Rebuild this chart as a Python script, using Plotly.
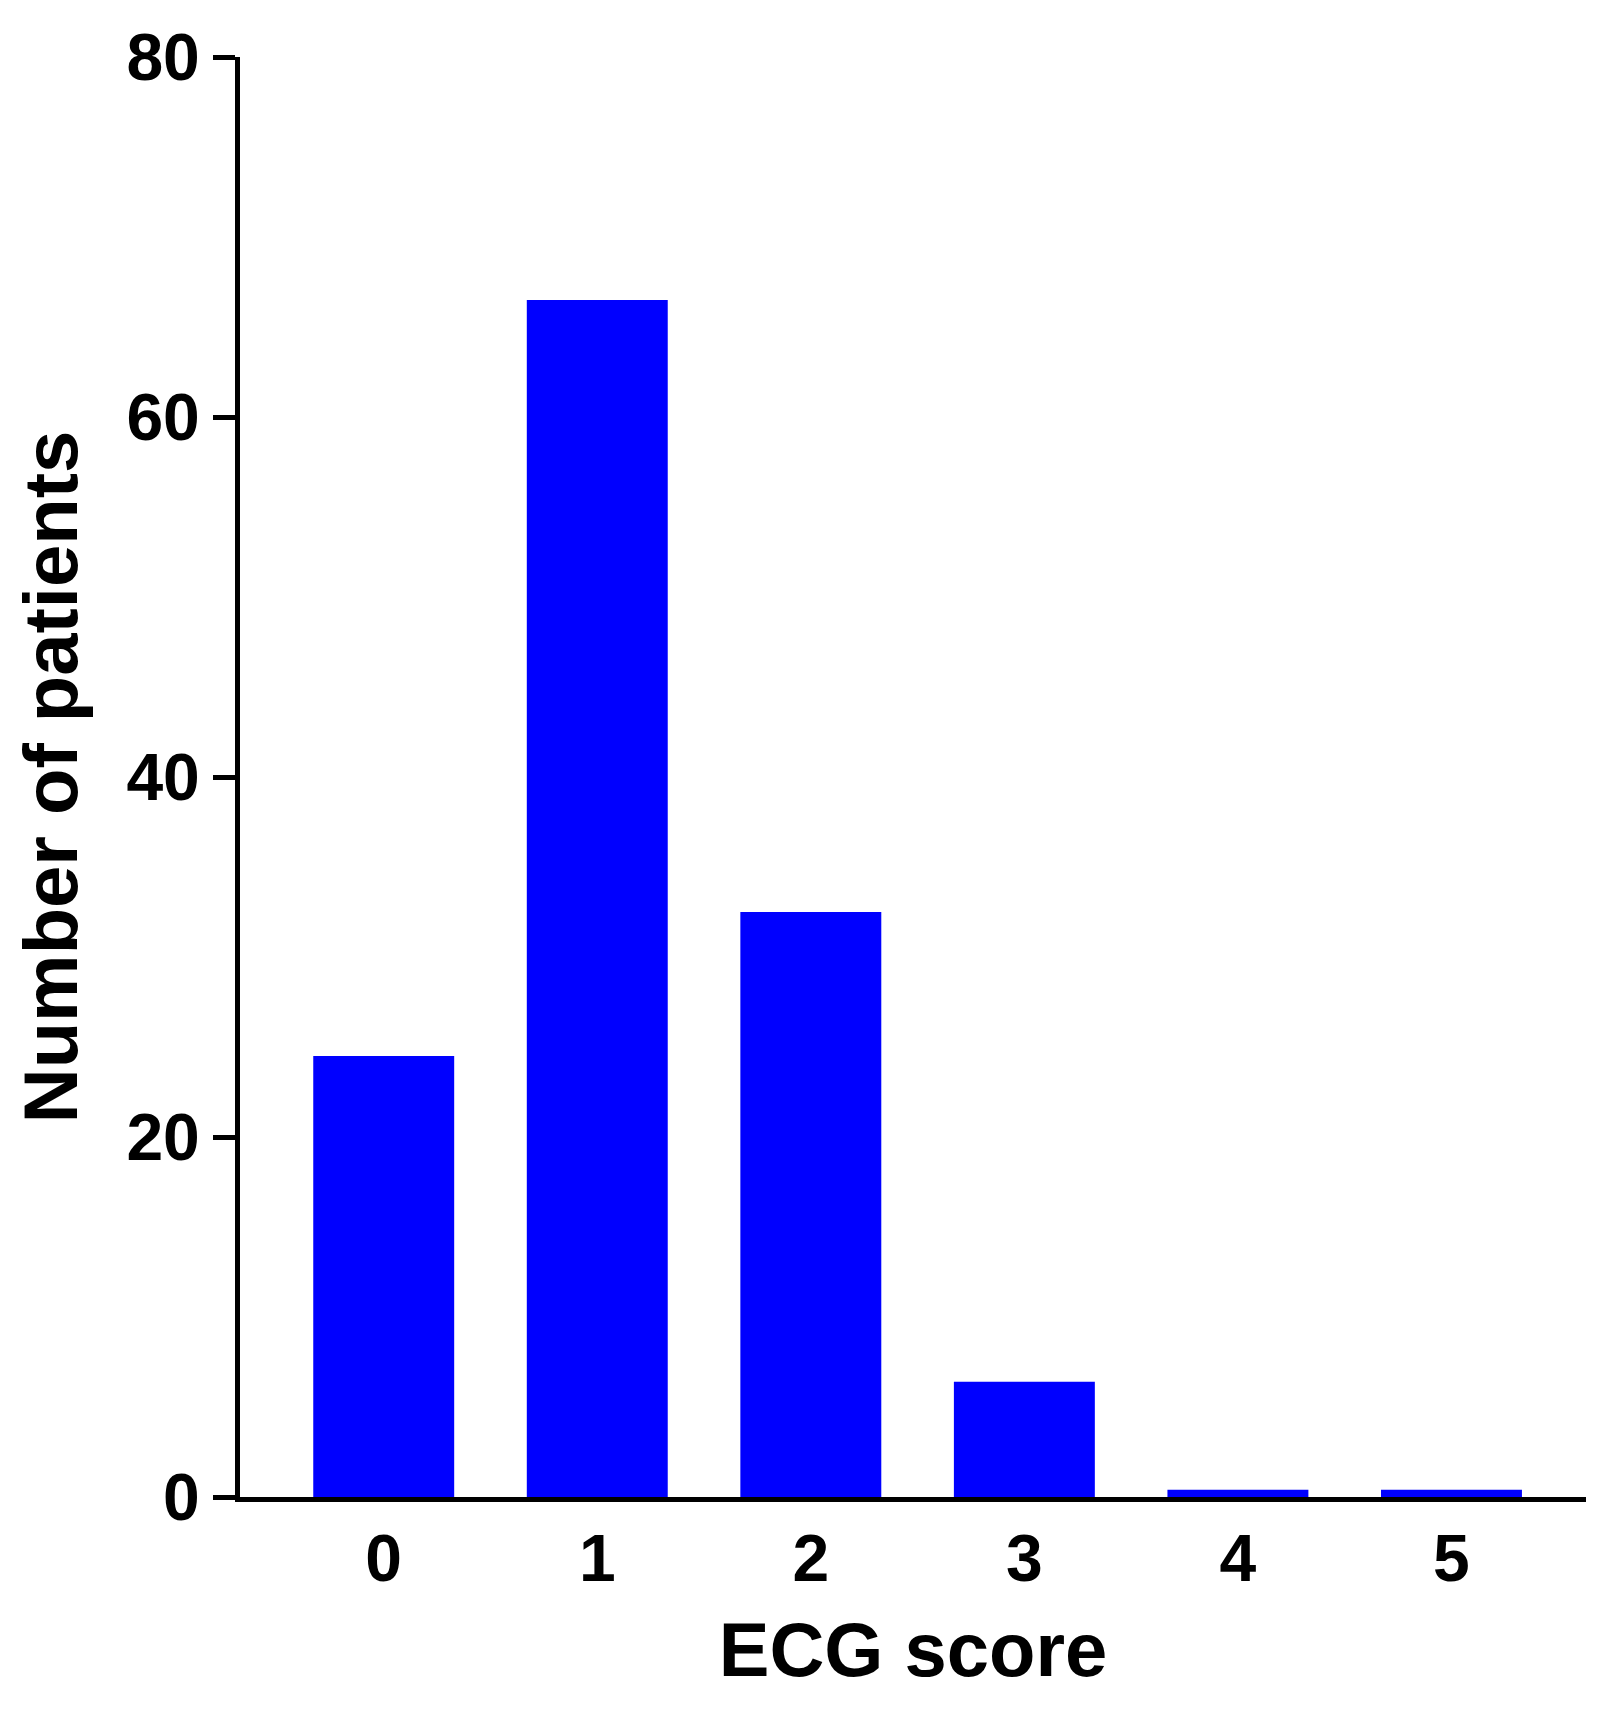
import plotly.graph_objects as go

scores = [0, 1, 2, 3, 4, 5]
patients = [24.5, 66.5, 32.5, 6.4, 0.4, 0.4]
y_ticks = [0, 20, 40, 60, 80]

FAM = "Liberation Sans Narrow, Liberation Sans, Arial"
fig = go.Figure(go.Bar(x=scores, y=patients, width=0.66, marker=dict(color="#0000FF", line=dict(width=0))))
font = dict(family=FAM, size=66, color="black")
tfont = dict(family=FAM, size=76, color="black")
fig.update_layout(
    width=1600, height=1711, plot_bgcolor="white", paper_bgcolor="white",
    margin=dict(l=232, r=22, t=42, b=222), showlegend=False,
    font=dict(family=FAM, color="black"),
)
fig.update_xaxes(range=[-0.673, 5.63], tickvals=scores, ticktext=[f"<b>{s}</b>" for s in scores],
                 tickfont=font, showline=True, linewidth=5, linecolor="black", ticks="",
                 showgrid=False, zeroline=False, ticklen=0,
                 title=dict(text="<b>ECG score</b>", font=tfont, standoff=30))
fig.update_yaxes(range=[0, 80], tickvals=y_ticks, ticktext=[f"<b>{t}</b>" for t in y_ticks],
                 tickfont=font, showline=True, linewidth=5, linecolor="black", ticks="outside",
                 ticklen=22, tickwidth=5, tickcolor="black", showgrid=False, zeroline=False,
                 title=dict(text="<b>Number of patients</b>", font=tfont, standoff=25))
fig.write_html("out.html")
